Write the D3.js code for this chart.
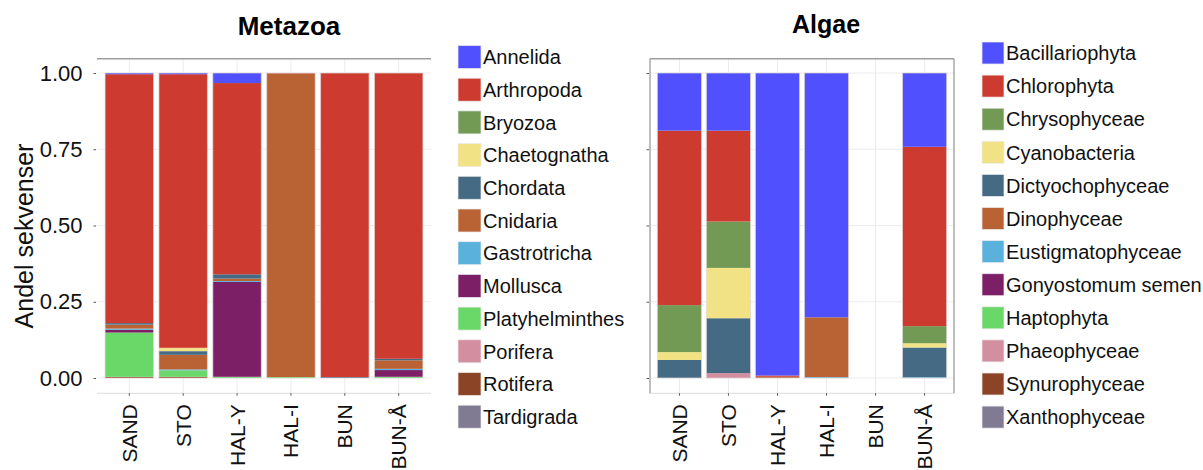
<!DOCTYPE html>
<html>
<head>
<meta charset="utf-8">
<script src="https://cdn.jsdelivr.net/npm/d3@7/dist/d3.min.js"></script>
<style>
  html, body { margin: 0; padding: 0; background: #fff; }
  svg { display: block; font-family: "Liberation Sans", Arial, sans-serif; }
</style>
</head>
<body>
<svg id="chart" width="1203" height="470"></svg>
<script>
// ---------- data ----------
const sites = ["SAND", "STO", "HAL-Y", "HAL-I", "BUN", "BUN-Å"];
const yTicks = [0, 0.25, 0.5, 0.75, 1];

const metazoaTaxa = ["Annelida", "Arthropoda", "Bryozoa", "Chaetognatha", "Chordata", "Cnidaria",
  "Gastrotricha", "Mollusca", "Platyhelminthes", "Porifera", "Rotifera", "Tardigrada"];
const metazoaValues = {
  "Annelida":        [0.004, 0.004, 0.033, 0.000, 0.000, 0.000],
  "Arthropoda":      [0.816, 0.897, 0.627, 0.002, 0.997, 0.937],
  "Bryozoa":         [0.000, 0.000, 0.000, 0.000, 0.000, 0.000],
  "Chaetognatha":    [0.000, 0.011, 0.000, 0.000, 0.000, 0.000],
  "Chordata":        [0.005, 0.012, 0.014, 0.000, 0.003, 0.005],
  "Cnidaria":        [0.013, 0.048, 0.008, 0.995, 0.000, 0.028],
  "Gastrotricha":    [0.004, 0.003, 0.003, 0.000, 0.000, 0.004],
  "Mollusca":        [0.009, 0.000, 0.311, 0.000, 0.000, 0.022],
  "Platyhelminthes": [0.145, 0.021, 0.004, 0.003, 0.000, 0.004],
  "Porifera":        [0.000, 0.000, 0.000, 0.000, 0.000, 0.000],
  "Rotifera":        [0.004, 0.004, 0.000, 0.000, 0.000, 0.000],
  "Tardigrada":      [0.000, 0.000, 0.000, 0.000, 0.000, 0.000]
};

const algaeTaxa = ["Bacillariophyta", "Chlorophyta", "Chrysophyceae", "Cyanobacteria", "Dictyochophyceae",
  "Dinophyceae", "Eustigmatophyceae", "Gonyostomum semen", "Haptophyta", "Phaeophyceae", "Synurophyceae", "Xanthophyceae"];
const algaeValues = {
  "Bacillariophyta":   [0.189, 0.189, 0.992, 0.801, 0.000, 0.242],
  "Chlorophyta":       [0.572, 0.298, 0.004, 0.000, 0.000, 0.588],
  "Chrysophyceae":     [0.154, 0.152, 0.000, 0.000, 0.000, 0.056],
  "Cyanobacteria":     [0.026, 0.165, 0.000, 0.000, 0.000, 0.014],
  "Dictyochophyceae":  [0.059, 0.180, 0.000, 0.000, 0.000, 0.097],
  "Dinophyceae":       [0.000, 0.000, 0.004, 0.196, 0.000, 0.000],
  "Eustigmatophyceae": [0.000, 0.000, 0.000, 0.003, 0.000, 0.003],
  "Gonyostomum semen": [0.000, 0.000, 0.000, 0.000, 0.000, 0.000],
  "Haptophyta":        [0.000, 0.000, 0.000, 0.000, 0.000, 0.000],
  "Phaeophyceae":      [0.000, 0.016, 0.000, 0.000, 0.000, 0.000],
  "Synurophyceae":     [0.000, 0.000, 0.000, 0.000, 0.000, 0.000],
  "Xanthophyceae":     [0.000, 0.000, 0.000, 0.000, 0.000, 0.000]
};

const palette = ["#5050fe", "#cd3a2f", "#739a55", "#f0e285", "#456a84", "#b96335",
  "#5ab1dc", "#7d1f66", "#69d869", "#d38ea0", "#8b4526", "#807a92"];

// ---------- drawing ----------
const svg = d3.select("#chart");

function panel(cfg) {
  const { taxa, values, x0, x1, title, titleX, titleY, titleSize, showYLabels, border, legendX, legendY0, legendStep, swW, swH } = cfg;
  const yTop = 57.75, yBot = 393.25;
  const x = d3.scaleBand().domain(sites).range([x0, x1]).paddingInner(0.1).paddingOuter(0.15);
  const y = d3.scaleLinear().domain([0, 1]).range([378, 73]);
  const color = d3.scaleOrdinal().domain(taxa).range(palette);

  const g = svg.append("g");

  // grid
  g.append("g").selectAll("line.h").data(yTicks).join("line")
    .attr("x1", x0).attr("x2", x1).attr("y1", d => y(d)).attr("y2", d => y(d))
    .attr("stroke", "#ececec").attr("stroke-width", 1);
  g.append("g").selectAll("line.v").data(sites).join("line")
    .attr("x1", d => x(d) + x.bandwidth() / 2).attr("x2", d => x(d) + x.bandwidth() / 2)
    .attr("y1", yTop).attr("y2", yBot)
    .attr("stroke", "#ececec").attr("stroke-width", 1);

  // stacked bars (first taxon on top)
  const rows = sites.map((s, i) => {
    const r = { site: s };
    taxa.forEach(t => r[t] = values[t][i]);
    return r;
  });
  const stack = d3.stack().keys(taxa.slice().reverse());
  const series = stack(rows);
  g.append("g").selectAll("g").data(series).join("g")
    .attr("fill", d => color(d.key))
    .selectAll("rect").data(d => d).join("rect")
    .attr("x", d => x(d.data.site))
    .attr("width", x.bandwidth())
    .attr("y", d => y(d[1]))
    .attr("height", d => Math.max(0, y(d[0]) - y(d[1])));

  // bar outlines
  const totals = rows.map(r => ({ site: r.site, total: d3.sum(taxa, t => r[t]) })).filter(d => d.total > 0);
  g.append("g").selectAll("rect").data(totals).join("rect")
    .attr("x", d => x(d.site)).attr("width", x.bandwidth())
    .attr("y", d => y(d.total)).attr("height", d => y(0) - y(d.total))
    .attr("fill", "none").attr("stroke", "rgba(225,215,215,0.7)").attr("stroke-width", 1);

  // bottom line
  g.append("line").attr("x1", x0).attr("x2", x1).attr("y1", yBot).attr("y2", yBot)
    .attr("stroke", "#dcdcdc").attr("stroke-width", 1);
  // borders
  g.append("line").attr("x1", x0).attr("x2", x1).attr("y1", yTop + 1).attr("y2", yTop + 1)
    .attr("stroke", "#9d9d9d").attr("stroke-width", 1.5);
  if (border) {
    g.append("line").attr("x1", x0).attr("x2", x0).attr("y1", yTop + 1).attr("y2", yBot)
      .attr("stroke", "#a8a8a8").attr("stroke-width", 1.5);
    g.append("line").attr("x1", x1).attr("x2", x1).attr("y1", yTop + 1).attr("y2", yBot)
      .attr("stroke", "#a8a8a8").attr("stroke-width", 1.5);
  }

  // y axis
  const yAxis = d3.axisLeft(y).tickValues(yTicks).tickSize(2.5).tickPadding(11)
    .tickFormat(showYLabels ? d3.format(".2f") : () => "");
  const ya = g.append("g").attr("transform", `translate(${x0 - 1},0)`).call(yAxis);
  ya.select(".domain").remove();
  ya.selectAll(".tick line").attr("stroke", "#555");
  ya.selectAll(".tick text").attr("font-size", 22).attr("fill", "#111")
    .attr("font-family", "Liberation Sans, Arial, sans-serif");

  // x axis
  const xAxis = d3.axisBottom(x).tickSize(2.5).tickPadding(0);
  const xa = g.append("g").attr("transform", `translate(0,${yBot})`).call(xAxis);
  xa.select(".domain").remove();
  xa.selectAll(".tick line").attr("stroke", "#555");
  xa.selectAll(".tick text")
    .attr("font-size", 21).attr("fill", "#111")
    .attr("font-family", "Liberation Sans, Arial, sans-serif")
    .attr("text-anchor", "end")
    .attr("transform", "translate(0,11) rotate(-90)")
    .attr("x", 0).attr("y", 0).attr("dy", "0.36em");

  // title
  g.append("text").attr("x", titleX).attr("y", titleY).attr("text-anchor", "middle")
    .attr("font-size", titleSize).attr("font-weight", "bold").attr("fill", "#000").text(title);

  // legend
  const lg = g.append("g");
  const items = lg.selectAll("g").data(taxa).join("g")
    .attr("transform", (d, i) => `translate(${legendX},${legendY0 + i * legendStep})`);
  items.append("rect").attr("x", 0).attr("y", -swH / 2).attr("width", swW).attr("height", swH)
    .attr("fill", d => color(d)).attr("stroke", "rgba(235,235,235,0.9)").attr("stroke-width", 0.8);
  items.append("text").attr("x", swW + 2).attr("y", 0).attr("dy", "0.36em")
    .attr("font-size", 20).attr("fill", "#111").text(d => d);
}

panel({ taxa: metazoaTaxa, values: metazoaValues, x0: 97, x1: 431, title: "Metazoa", titleX: 289, titleY: 35, titleSize: 26,
  showYLabels: true, border: false, legendX: 458, legendY0: 57, legendStep: 32.7, swW: 23, swH: 23 });
panel({ taxa: algaeTaxa, values: algaeValues, x0: 650, x1: 954, title: "Algae", titleX: 826, titleY: 33, titleSize: 25,
  showYLabels: false, border: true, legendX: 982, legendY0: 53, legendStep: 33.1, swW: 22, swH: 22 });

// y axis title
svg.append("text").attr("transform", "translate(33,236) rotate(-90)").attr("text-anchor", "middle")
  .attr("font-size", 25).attr("fill", "#111").text("Andel sekvenser");
</script>
</body>
</html>
